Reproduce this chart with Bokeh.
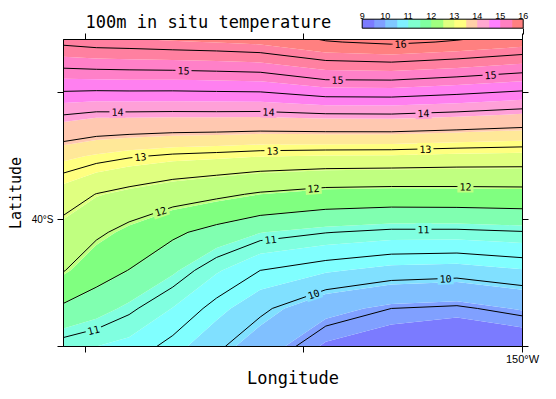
import math
import numpy as np
from bokeh.plotting import figure
from bokeh.plotting.contour import contour_data
from bokeh.models import (Range1d, FixedTicker, LinearAxis, ColorBar,
                          LinearColorMapper, ColumnDataSource)
from bokeh.core.properties import value
from bokeh.embed import file_html
from bokeh.resources import INLINE

# ---------------- data ----------------
lons = [-171.0, -169.5, -168.0, -166.0, -164.0, -162.0, -159.0, -156.0, -153.0, -150.0]
lats = [-45.0, -43.5, -42.0, -40.5, -39.0, -37.5, -36.0, -34.5, -33.0, -31.5]
temperature = [
    [10.87, 10.78, 10.69, 10.39, 10.06, 9.76, 9.28, 9.10, 8.95, 9.05],
    [11.42, 11.26, 11.06, 10.77, 10.38, 10.07, 9.69, 9.50, 9.45, 9.61],
    [12.02, 11.69, 11.49, 11.18, 10.82, 10.50, 10.32, 10.18, 10.14, 10.26],
    [12.33, 12.08, 11.86, 11.58, 11.35, 11.14, 11.01, 10.93, 10.93, 10.98],
    [12.71, 12.49, 12.37, 12.21, 12.09, 11.95, 11.82, 11.79, 11.80, 11.82],
    [13.23, 13.12, 13.03, 12.95, 12.91, 12.86, 12.83, 12.82, 12.78, 12.76],
    [13.93, 13.85, 13.85, 13.84, 13.84, 13.83, 13.87, 13.88, 13.82, 13.74],
    [14.74, 14.75, 14.76, 14.76, 14.78, 14.80, 14.99, 15.00, 14.91, 14.80],
    [15.57, 15.63, 15.65, 15.69, 15.72, 15.77, 15.98, 16.06, 15.97, 15.84],
    [16.30, 16.30, 16.30, 16.30, 16.35, 16.40, 16.60, 16.60, 16.60, 16.50],
]

line_levels = [9.5, 10.0, 10.5, 11.0, 11.5, 12.0, 12.5, 13.0, 13.5, 14.0,
               14.5, 15.0, 15.5, 16.0]
fill_levels = [8.0, 9.33, 9.58, 9.93, 10.28, 10.78, 11.13, 11.49, 11.95, 12.46,
               12.85, 13.16, 13.43, 13.86, 14.25, 14.77, 15.25, 15.71, 17.5]
fill_colors = ["#7b7bff", "#80a0ff", "#80c0ff", "#80e0ff", "#80ffff", "#80ffe0",
               "#80ffb0", "#80ff80", "#c0ff80", "#e0ff80", "#ffff80", "#ffe898",
               "#ffc8b0", "#ffa0d8", "#ff80f0", "#ff80c8", "#ff80a0", "#ff8080"]

cbar_low, cbar_high = 9.0, 16.0
cbar_colors = ["#7b7bff", "#80a0ff", "#80c8ff", "#80f0ff", "#80ffd0", "#80ffa0",
               "#a0ff80", "#e0ff80", "#ffff80", "#ffd0a8", "#ffa8d0", "#ff80ff",
               "#ff80c0", "#ff8080"]
cbar_ticks = [9, 10, 11, 12, 13, 14, 15, 16]
cbar_end_tick = [16]

label_levels = [16, 15, 15, 15, 14, 14, 14, 13, 13, 13, 12, 12, 12, 11, 11, 11, 10, 10]
label_lons = [-155.58, -165.51, -158.46, -151.46, -168.53, -161.62, -154.53,
              -167.48, -161.44, -154.44, -166.56, -159.56, -152.61,
              -169.63, -161.53, -154.53, -159.56, -153.52]

x_ticks = [-170, -160, -150]
x_tick_labels = {-170: "", -160: "", -150: "150°W"}
y_ticks = [-45, -40, -35]
y_tick_labels = {-45: "", -40: "40°S", -35: ""}

title_text = "100m in situ temperature"
x_label = "Longitude"
y_label = "Latitude"

# ---------------- layout ----------------
FW, FH = 459, 307
x0, x1 = -171.0, -150.0
y0, y1 = -45.0, -32.9

p = figure(frame_width=FW, frame_height=FH,
           x_range=Range1d(x0, x1), y_range=Range1d(y0, y1),
           output_backend="svg", toolbar_location=None,
           min_border_left=63, min_border_right=26,
           min_border_top=39, min_border_bottom=46)
p.background_fill_color = "white"
p.border_fill_color = "white"
p.outline_line_color = "black"
p.outline_line_width = 1
p.grid.visible = False

Z = np.array(temperature)
p.contour(lons, lats, Z, levels=fill_levels, fill_color=fill_colors, line_color=None)
p.contour(lons, lats, Z, levels=line_levels, fill_color=None,
          line_color="black", line_width=1)

# contour labels placed on the computed contour lines
px_x = FW / (x1 - x0)
px_y = FH / (y1 - y0)
uniq = sorted(set(label_levels))
cd = contour_data(lons, lats, Z, levels=uniq, want_fill=False, want_line=True)
lines = {}
for lev, xs, ys in zip(uniq, cd.line_data.xs, cd.line_data.ys):
    lines[lev] = (np.asarray(xs, float).ravel(), np.asarray(ys, float).ravel())


def locate(level, lon):
    xs, ys = lines[level]
    for i in range(len(xs) - 1):
        xa, xb, ya, yb = xs[i], xs[i + 1], ys[i], ys[i + 1]
        if np.isnan(xa) or np.isnan(xb) or xa == xb:
            continue
        if (xa - lon) * (xb - lon) <= 0:
            t = (lon - xa) / (xb - xa)
            lat = ya + t * (yb - ya)
            ang = math.atan2((yb - ya) * px_y, (xb - xa) * px_x)
            if ang > math.pi / 2:
                ang -= math.pi
            if ang < -math.pi / 2:
                ang += math.pi
            return lat, ang
    return None, 0.0


def band_color(v):
    for i in range(len(fill_levels) - 1):
        if fill_levels[i] <= v < fill_levels[i + 1]:
            return fill_colors[i]
    return fill_colors[-1]


lx, ly, lt, la, lc = [], [], [], [], []
for lev, lon in zip(label_levels, label_lons):
    lat, ang = locate(lev, lon)
    if lat is None:
        continue
    lx.append(lon); ly.append(lat); lt.append(str(lev)); la.append(ang)
    lc.append(band_color(lev))
src = ColumnDataSource(dict(x=lx, y=ly, text=lt, angle=la, bg=lc))
p.text(x="x", y="y", text="text", angle="angle", source=src,
       text_font=value("DejaVu Sans Mono"), text_font_size="10px",
       text_align="center", text_baseline="middle", text_color="black",
       background_fill_color="bg", padding=2)

# ---------------- axes ----------------
def style_axis(ax, ticks, overrides, font_size):
    ax.ticker = FixedTicker(ticks=ticks)
    ax.major_label_overrides = overrides
    ax.major_tick_out = 6
    ax.major_tick_in = 0
    ax.minor_tick_line_color = None
    ax.axis_line_color = "black"
    ax.major_tick_line_color = "black"
    ax.major_label_text_font = "Liberation Sans"
    ax.major_label_text_font_size = font_size
    ax.major_label_text_color = "black"
    ax.axis_label_text_font = "DejaVu Sans Mono"
    ax.axis_label_text_font_style = "normal"
    ax.axis_label_text_color = "black"


xa = p.xaxis[0]
style_axis(xa, x_ticks, x_tick_labels, "11px")
xa.major_label_standoff = 0
xa.axis_label = x_label
xa.axis_label_text_font_size = "17px"
xa.axis_label_standoff = 0

ya = p.yaxis[0]
style_axis(ya, y_ticks, y_tick_labels, "10px")
ya.major_label_standoff = 4
ya.axis_label = y_label
ya.axis_label_text_font_size = "15px"
ya.axis_label_standoff = 4

top = LinearAxis()
style_axis(top, x_ticks, {t: "" for t in x_ticks}, "0px")
top.major_label_standoff = 0
p.add_layout(top, "above")

right = LinearAxis()
style_axis(right, y_ticks, {t: "" for t in y_ticks}, "0px")
right.major_label_standoff = 0
p.add_layout(right, "right")

# ---------------- title ----------------
p.title.text = title_text
p.title.align = "left"
p.title.offset = 22
p.title.standoff = 3
p.title.text_font = "DejaVu Sans Mono"
p.title.text_font_size = "17px"
p.title.text_font_style = "normal"
p.title.text_color = "black"

# ---------------- colour bar ----------------
CB_W, CB_H = 161, 9
cb_left = 298.7
TICK = 6
mapper = LinearColorMapper(palette=cbar_colors, low=cbar_low, high=cbar_high)
cb = ColorBar(color_mapper=mapper, orientation="horizontal",
              location=(cb_left, FH + 11.3 - TICK), width=CB_W, height=CB_H,
              padding=0, label_standoff=0, margin=0,
              ticker=FixedTicker(ticks=cbar_end_tick),
              major_label_text_font_size="0px",
              major_tick_out=TICK, major_tick_in=0,
              major_tick_line_color="black", minor_tick_line_color=None,
              bar_line_color="black", border_line_color=None,
              background_fill_alpha=0)
p.add_layout(cb)

# invisible bar whose tick labels sit on top of the visible bar
cb_labels = ColorBar(color_mapper=mapper, orientation="horizontal",
                     location=(cb_left, FH + 17.5), width=CB_W, height=1,
                     padding=0, label_standoff=0, margin=0, scale_alpha=0,
                     ticker=FixedTicker(ticks=cbar_ticks),
                     major_label_text_font="Liberation Sans",
                     major_label_text_font_size="9px",
                     major_label_text_color="black",
                     major_tick_line_color=None, minor_tick_line_color=None,
                     bar_line_color=None, border_line_color=None,
                     background_fill_alpha=0)
p.add_layout(cb_labels)

open("out.html", "w").write(file_html(p, INLINE))
